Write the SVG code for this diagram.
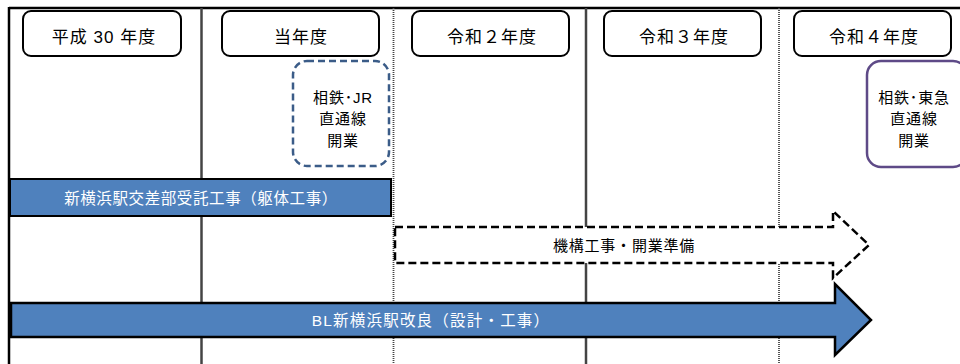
<svg xmlns="http://www.w3.org/2000/svg" width="960" height="364" viewBox="0 0 960 364">
<style>
text{font-family:"Liberation Sans","Noto Sans CJK JP",sans-serif;text-anchor:middle;dominant-baseline:central}
.hdr rect{fill:#fff;stroke:#000;stroke-width:2}
.hdr text{font-size:17px;fill:#000;letter-spacing:1px}
.grid{stroke:#444;stroke-width:2.5}
.dot{stroke:#444;stroke-width:1.8;stroke-dasharray:1 1}
.lbl{font-size:15px;fill:#000;letter-spacing:0.8px}
.wht{font-size:15.5px;fill:#fff;letter-spacing:0.6px}
</style>
<rect x="0" y="0" width="960" height="364" fill="#fff"/>
<g id="grid">
<line x1="9" y1="8" x2="960" y2="8" stroke="#000" stroke-width="2.5"/>
<line x1="9" y1="7" x2="9" y2="364" stroke="#000" stroke-width="2.5"/>
<line class="grid" x1="201.5" y1="8" x2="201.5" y2="364"/>
<line class="dot" x1="393.5" y1="8" x2="393.5" y2="364"/>
<line class="grid" x1="586" y1="8" x2="586" y2="364"/>
<line class="dot" x1="779" y1="8" x2="779" y2="364"/>
</g>
<g id="h1" class="hdr"><rect x="23" y="11" width="158" height="45" rx="8"/><text x="104" y="37">平成 30 年度</text></g>
<g id="h2" class="hdr"><rect x="222" y="11" width="157" height="45" rx="8"/><text x="301" y="37">当年度</text></g>
<g id="h3" class="hdr"><rect x="412" y="11" width="157" height="45" rx="8"/><text x="492" y="37">令和２年度</text></g>
<g id="h4" class="hdr"><rect x="604" y="11" width="157" height="45" rx="8"/><text x="684" y="37">令和３年度</text></g>
<g id="h5" class="hdr"><rect x="794" y="11" width="157" height="45" rx="8"/><text x="874" y="37">令和４年度</text></g>
<g id="jr">
<rect x="293" y="61" width="96" height="105" rx="14" fill="#fff" stroke="#3b5c88" stroke-width="2.5" stroke-dasharray="7 4"/>
<text class="lbl" x="343" y="97">相鉄･JR</text>
<text class="lbl" x="343" y="118">直通線</text>
<text class="lbl" x="343" y="140">開業</text>
</g>
<g id="tokyu">
<rect x="867" y="61" width="100" height="106" rx="14" fill="#fff" stroke="#5e4a87" stroke-width="2.5"/>
<text class="lbl" x="914" y="97">相鉄･東急</text>
<text class="lbl" x="914" y="118">直通線</text>
<text class="lbl" x="914" y="140">開業</text>
</g>
<g id="connectors">
<g id="kutai">
<rect x="10" y="179" width="381" height="37" fill="#4f81bd" stroke="#000" stroke-width="2"/>
<text class="wht" x="201" y="198">新横浜駅交差部受託工事（躯体工事）</text>
</g>
<g id="kiko">
<path d="M395 227 H833 V211 L869 245 L833 278 V263 H395 Z" fill="#fff" stroke="#000" stroke-width="2.5" stroke-dasharray="8 4"/>
<text class="lbl" x="624" y="245">機構工事・開業準備</text>
</g>
<g id="bl">
<path d="M11 303 H835 V284 L871 320 L835 355 V337 H11 Z" fill="#4f81bd" stroke="#000" stroke-width="2.5"/>
<text class="wht" x="431" y="320" style="letter-spacing:1.2px">BL新横浜駅改良（設計・工事）</text>
</g>
</g>
</svg>
